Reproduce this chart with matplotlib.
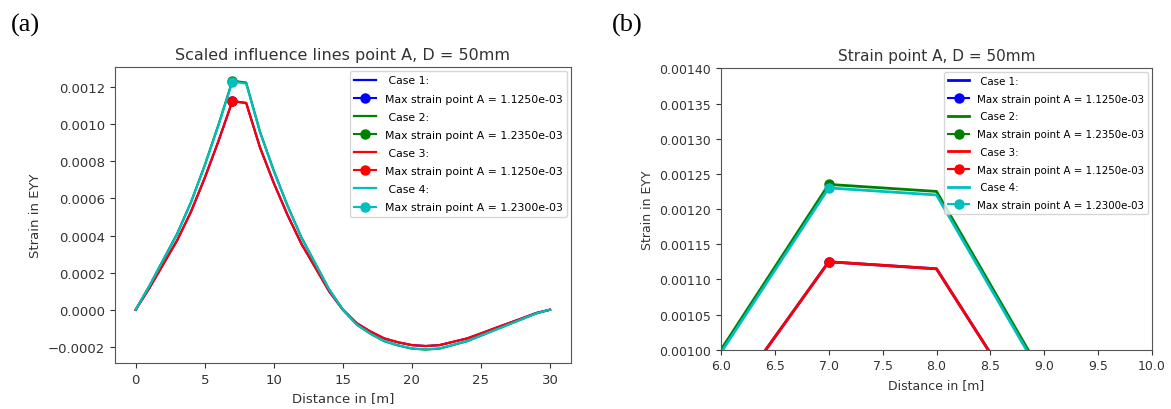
import numpy as np
import matplotlib
matplotlib.use('Agg')
import matplotlib.pyplot as plt

# Distance along the span in metres (one value per metre)
distance = np.arange(0, 31)

# Scaled influence lines, strain EYY at point A
case_1 = [0.0, 0.000118, 0.000246, 0.000374, 0.000528, 0.000711, 0.000911, 0.001125,
          0.001115, 0.000875, 0.000683, 0.00051, 0.000355, 0.000228, 0.0001, 0.0,
          -0.000073, -0.000118, -0.000155, -0.000176, -0.000191, -0.000196, -0.000191,
          -0.000173, -0.000155, -0.000128, -0.0001, -0.000073, -0.000046, -0.000018, 0.0]
case_2 = [0.0, 0.00013, 0.00027, 0.00041, 0.00058, 0.00078, 0.001, 0.001235,
          0.001225, 0.00096, 0.00075, 0.00056, 0.00039, 0.00025, 0.00011, 0.0,
          -0.00008, -0.00013, -0.00017, -0.000193, -0.00021, -0.000215, -0.00021,
          -0.00019, -0.00017, -0.00014, -0.00011, -0.00008, -0.00005, -0.00002, 0.0]
case_3 = list(case_1)
case_4 = [0.0, 0.000129, 0.000269, 0.000408, 0.000578, 0.000777, 0.000996, 0.00123,
          0.00122, 0.000956, 0.000747, 0.000558, 0.000388, 0.000249, 0.00011, 0.0,
          -0.00008, -0.00013, -0.000169, -0.000192, -0.000209, -0.000214, -0.000209,
          -0.000189, -0.000169, -0.000139, -0.00011, -0.00008, -0.00005, -0.00002, 0.0]

cases = [case_1, case_2, case_3, case_4]
case_names = [' Case 1:', ' Case 2:', ' Case 3:', ' Case 4:']
colors = ['b', 'g', 'r', 'c']

# Location and value of the maximum strain for each case
max_x = [7, 7, 7, 7]
max_strain = [0.001125, 0.001235, 0.001125, 0.00123]

text_col = '#333333'


def draw_panel(ax, title, fs_tick, fs_title, fs_leg, lw):
    for vals, name, col, mx, mv in zip(cases, case_names, colors, max_x, max_strain):
        ax.plot(distance, vals, color=col, lw=lw, label=name)
        ax.plot([mx], [mv], col + 'o-', ms=6.5,
                label='Max strain point A = {:.4e}'.format(mv))
    ax.set_title(title, fontsize=fs_title, color=text_col)
    ax.set_xlabel('Distance in [m]', fontsize=fs_tick, color=text_col)
    ax.set_ylabel('Strain in EYY', fontsize=fs_tick, color=text_col)
    ax.tick_params(labelsize=fs_tick, colors=text_col)
    for s in ax.spines.values():
        s.set_color('#555555')
    ax.legend(loc='upper right', fontsize=fs_leg, borderaxespad=0.35,
              labelspacing=0.75, handlelength=2.0)


fig = plt.figure(figsize=(11.71, 4.10), dpi=100)

ax_a = fig.add_axes([0.0982, 0.1122, 0.3892, 0.7212])
draw_panel(ax_a, 'Scaled influence lines point A, D = 50mm', 9.5, 11.5, 7.8, 1.6)

ax_b = fig.add_axes([0.6157, 0.1446, 0.3681, 0.6863])
draw_panel(ax_b, 'Strain point A, D = 50mm', 9.0, 11.0, 7.4, 2.0)
ax_b.set_xlim(6, 10)
ax_b.set_ylim(0.001, 0.0014)

# Panel letters
fig.text(25 / 1171, 1 - 25 / 410, '(a)', family='Liberation Serif', fontsize=19,
         ha='center', va='center')
fig.text(627 / 1171, 1 - 25 / 410, '(b)', family='Liberation Serif', fontsize=19,
         ha='center', va='center')

fig.savefig('out.png', dpi=100)
